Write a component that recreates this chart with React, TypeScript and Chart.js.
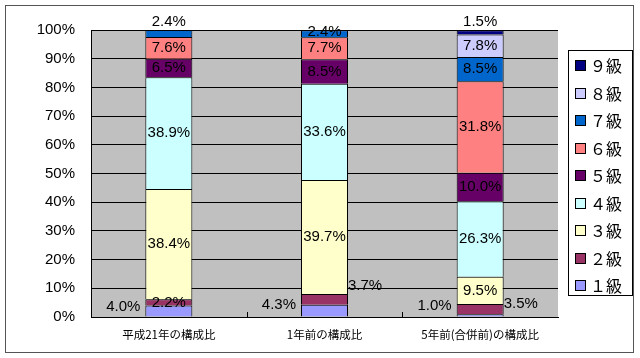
import React, { useEffect, useRef } from "react";
import { Chart, registerables } from "chart.js";

Chart.register(...registerables);

const categories = ["平成21年の構成比", "1年前の構成比", "5年前(合併前)の構成比"];
const gradeNames = ["１級", "２級", "３級", "４級", "５級", "６級", "７級", "８級", "９級"];
const grade1 = [4.0, 4.3, 1.0];
const grade2 = [2.2, 3.7, 3.5];
const grade3 = [38.4, 39.7, 9.5];
const grade4 = [38.9, 33.6, 26.3];
const grade5 = [6.5, 8.5, 10.0];
const grade6 = [7.6, 7.7, 31.8];
const grade7 = [2.4, 2.4, 8.5];
const grade8 = [0, 0, 7.8];
const grade9 = [0, 0, 1.5];
const yTicks = [0, 10, 20, 30, 40, 50, 60, 70, 80, 90, 100];

const seriesValues = [grade1, grade2, grade3, grade4, grade5, grade6, grade7, grade8, grade9];
const colors = ["#9999ff", "#993366", "#ffffcc", "#ccffff", "#660066", "#ff8080", "#0066cc", "#ccccff", "#000080"];

// label placement overrides keyed "dataset-index"
const placement: Record<string, { pos: string; dy: number }> = {
  "0-0": { pos: "left", dy: -4 },
  "0-1": { pos: "left", dy: -6 },
  "0-2": { pos: "left", dy: -9 },
  "1-1": { pos: "right", dy: -13 },
  "1-2": { pos: "right", dy: -5 },
  "6-0": { pos: "above", dy: 0 },
  "6-1": { pos: "center", dy: -2 },
  "8-2": { pos: "above", dy: 0 },
};

const NUM_FONT = "15px 'Liberation Sans', Arial, sans-serif";

const framePlugin = {
  id: "frame",
  beforeDraw(chart: any) {
    const { ctx, chartArea } = chart;
    ctx.save();
    ctx.fillStyle = "#ffffff";
    ctx.fillRect(0, 0, chart.width, chart.height);
    ctx.strokeStyle = "#555555";
    ctx.lineWidth = 1;
    ctx.strokeRect(5.5, 5.5, 628, 347);
    ctx.fillStyle = "#c0c0c0";
    ctx.fillRect(chartArea.left, chartArea.top, chartArea.right - chartArea.left, chartArea.bottom - chartArea.top);
    ctx.restore();
  },
  afterDraw(chart: any) {
    const { ctx, chartArea } = chart;
    ctx.save();
    ctx.strokeStyle = "#000";
    ctx.lineWidth = 1;
    const n = categories.length;
    const w = (chartArea.right - chartArea.left) / n;
    for (let k = 1; k < n; k++) {
      const x = Math.round(chartArea.left + k * w) + 0.5;
      ctx.beginPath();
      ctx.moveTo(x, chartArea.bottom);
      ctx.lineTo(x, chartArea.bottom - 5);
      ctx.stroke();
    }
    // legend
    const lx = 568.5, ly = 50.5, lw = 64, lh = 245;
    ctx.fillStyle = "#fff";
    ctx.fillRect(lx, ly, lw, lh);
    ctx.strokeStyle = "#000";
    ctx.strokeRect(lx, ly, lw, lh);
    ctx.font = "16px 'Noto Sans CJK JP', sans-serif";
    ctx.textBaseline = "middle";
    ctx.textAlign = "left";
    for (let i = gradeNames.length - 1, r = 0; i >= 0; i--, r++) {
      const cy = 65 + r * 27.5;
      ctx.fillStyle = colors[i];
      ctx.fillRect(575.5, Math.round(cy - 5) + 0.5, 10, 10);
      ctx.strokeStyle = "#000";
      ctx.strokeRect(575.5, Math.round(cy - 5) + 0.5, 10, 10);
      ctx.fillStyle = "#000";
      ctx.fillText(gradeNames[i], 590, cy + 1);
    }
    ctx.restore();
  },
  afterDatasetsDraw(chart: any) {
    const { ctx } = chart;
    ctx.save();
    ctx.font = NUM_FONT;
    ctx.fillStyle = "#000";
    ctx.textBaseline = "middle";
    chart.data.datasets.forEach((ds: any, i: number) => {
      const meta = chart.getDatasetMeta(i);
      meta.data.forEach((el: any, j: number) => {
        const v = ds.data[j];
        if (!v) return;
        const p = el.getProps(["x", "y", "base", "width"], true);
        const text = v.toFixed(1) + "%";
        const tw = ctx.measureText(text).width;
        const pl = placement[i + "-" + j] || { pos: "center", dy: 0 };
        let x = p.x;
        let y = (p.y + p.base) / 2 + pl.dy;
        if (pl.pos === "left") x = p.x - p.width / 2 - 5 - tw / 2;
        else if (pl.pos === "right") x = p.x + p.width / 2 + tw / 2;
        else if (pl.pos === "above") y = Math.min(p.y, p.base) - 8;
        ctx.textAlign = "center";
        ctx.fillText(text, x, y);
      });
    });
    ctx.restore();
  },
};

export default function App() {
  const ref = useRef<HTMLCanvasElement | null>(null);
  useEffect(() => {
    if (!ref.current) return;
    const chart = new Chart(ref.current, {
      type: "bar",
      data: {
        labels: categories,
        datasets: seriesValues.map((vals, i) => ({
          label: gradeNames[i],
          data: vals.map((v) => (v ? v : null)),
          backgroundColor: colors[i],
          borderColor: "#000",
          borderWidth: { top: 1, left: 1, right: 1, bottom: 0 },
          borderSkipped: false,
          barPercentage: 0.302,
          categoryPercentage: 1,
        })),
      },
      options: {
        responsive: false,
        animation: false,
        layout: { padding: { top: 30, right: 82, left: 0, bottom: 0 } },
        plugins: { legend: { display: false }, tooltip: { enabled: false } },
        scales: {
          x: {
            stacked: true,
            grid: { display: false, drawTicks: false },
            border: { display: true, color: "#000" },
            ticks: {
              padding: 11,
              color: "#000",
              maxRotation: 0,
              font: { family: "'Noto Sans CJK JP', sans-serif", size: 11.5 },
            },
            afterFit(scale: any) {
              scale.height = 41;
            },
          },
          y: {
            stacked: true,
            min: 0,
            max: 100,
            afterBuildTicks(scale: any) {
              scale.ticks = yTicks.map((v) => ({ value: v }));
            },
            grid: { color: "#000", drawTicks: false, lineWidth: 1 },
            border: { display: true, color: "#000" },
            ticks: {
              padding: 16,
              color: "#000",
              font: { family: "'Liberation Sans', Arial, sans-serif", size: 15 },
              callback: (v: any) => v + "%",
            },
            afterFit(scale: any) {
              scale.width = 91;
            },
          },
        },
      },
      plugins: [framePlugin],
    });
    return () => chart.destroy();
  }, []);
  return (
    <div style={{ position: "fixed", left: 0, top: 0, width: 640, height: 358, background: "#fff" }}>
      <canvas ref={ref} width={640} height={358} style={{ display: "block" }} />
    </div>
  );
}
